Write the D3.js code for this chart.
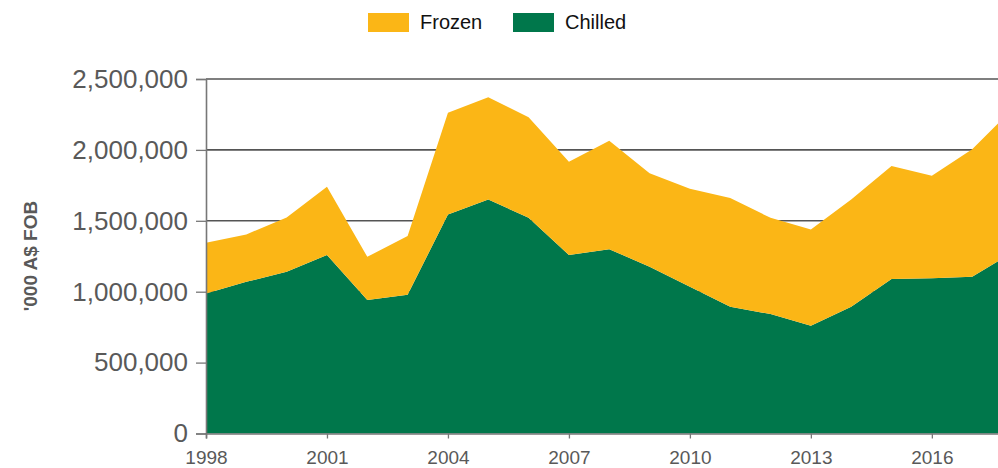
<!DOCTYPE html>
<html>
<head>
<meta charset="utf-8">
<script src="https://cdn.jsdelivr.net/npm/d3@7/dist/d3.min.js"></script>
<style>
  html, body { margin: 0; padding: 0; background: #fff; }
  svg { display: block; font-family: "Liberation Sans", Arial, sans-serif; }
</style>
</head>
<body>
<script>
const years = [1998,1999,2000,2001,2002,2003,2004,2005,2006,2007,2008,2009,2010,2011,2012,2013,2014,2015,2016,2017,2018];
const chilled = [988000,1070000,1140000,1258000,941000,978000,1545000,1651000,1521000,1258000,1300000,1176000,1035000,893000,842000,759000,893000,1089000,1094000,1105000,1277000];
const frozen = [357000,334000,384000,482000,305000,414000,717000,720000,709000,659000,765000,659000,691000,767000,679000,680000,758000,797000,724000,899000,1011000];
const seriesNames = ["Chilled","Frozen"];
const seriesColors = ["#00774B","#FBB616"];
const yTicks = [0,500000,1000000,1500000,2000000,2500000];
const xTicks = [1998,2001,2004,2007,2010,2013,2016];
const yTitle = "'000 A$ FOB";

const W = 998, H = 468;
const svg = d3.select("body").append("svg").attr("width", W).attr("height", H);

const x = d3.scaleLinear().domain([1998, 2018]).range([206, 1012.5]);
const y = d3.scaleLinear().domain([0, 2500000]).range([433.5, 79]);

const rows = years.map((yr, i) => ({year: yr, Chilled: chilled[i], Frozen: frozen[i]}));
const stack = d3.stack().keys(seriesNames)(rows);

// gridlines
svg.append("g").selectAll("line").data(yTicks.filter(d => d > 0)).join("line")
  .attr("x1", x(1998)).attr("x2", W)
  .attr("y1", d => y(d)).attr("y2", d => y(d))
  .attr("stroke", "#555").attr("stroke-width", 1.6);

// areas
const area = d3.area().x(d => x(d.data.year)).y0(d => y(d[0])).y1(d => y(d[1]));
svg.append("g").selectAll("path").data(stack).join("path")
  .attr("d", area)
  .attr("fill", (d, i) => seriesColors[i]);

// y axis
const yAxis = svg.append("g").attr("transform", `translate(${x(1998)},0)`)
  .call(d3.axisLeft(y).tickValues(yTicks).tickFormat(d3.format(",")).tickSize(10).tickPadding(8));
yAxis.select(".domain").attr("stroke", "#777").attr("stroke-width", 1.6);
yAxis.selectAll(".tick line").attr("stroke", "#777").attr("stroke-width", 1.3);
yAxis.selectAll("text").attr("fill", "#595959").attr("font-size", 26).attr("font-family", "Liberation Sans, Arial, sans-serif");

// x axis
const xAxis = svg.append("g").attr("transform", `translate(0,${y(0)})`)
  .call(d3.axisBottom(x).tickValues(xTicks).tickFormat(d3.format("d")).tickSize(5).tickPadding(12));
xAxis.select(".domain").attr("stroke", "#777").attr("stroke-width", 1.6);
xAxis.selectAll(".tick line").attr("stroke", "#777").attr("stroke-width", 1.3);
xAxis.selectAll("text").attr("fill", "#595959").attr("font-size", 19).attr("font-family", "Liberation Sans, Arial, sans-serif");

// y title
svg.append("text")
  .attr("transform", `translate(37,256) rotate(-90)`)
  .attr("text-anchor", "middle")
  .attr("font-size", 19).attr("font-weight", "bold").attr("fill", "#595959")
  .text(yTitle);

// legend
const legendItems = [{name: "Frozen", color: seriesColors[1], x: 368}, {name: "Chilled", color: seriesColors[0], x: 513}];
const lg = svg.append("g");
lg.selectAll("rect").data(legendItems).join("rect")
  .attr("x", d => d.x).attr("y", 13).attr("width", 41).attr("height", 19)
  .attr("fill", d => d.color);
lg.selectAll("text").data(legendItems).join("text")
  .attr("x", d => d.x + 52).attr("y", 29)
  .attr("font-size", 20).attr("fill", "#111")
  .text(d => d.name);
</script>
</body>
</html>
